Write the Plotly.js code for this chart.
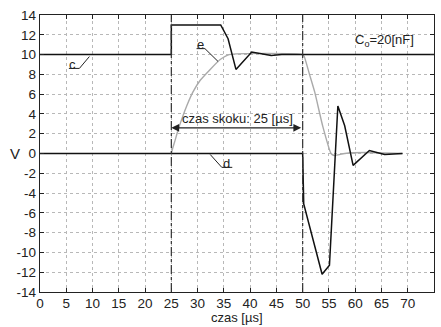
<!DOCTYPE html>
<html>
<head>
<meta charset="utf-8">
<script src="https://cdn.plot.ly/plotly-3.0.1.min.js"></script>
<style>html,body{margin:0;padding:0;background:#fff;}#chart{width:441px;height:327px;}</style>
</head>
<body>
<div id="chart"></div>
<script>
// Trace c (upper black)
const cTime = [0, 25, 25, 34.4, 35.8, 37.3, 40.3, 42.5, 44, 46, 75];
const cVolt = [10, 10, 13, 13, 11.6, 8.5, 10.25, 10.0, 9.9, 10, 10];
// Trace d (lower black)
const dTime = [0, 50, 50.2, 53.7, 55.1, 56.7, 58, 59.6, 62.7, 65.6, 69];
const dVolt = [0, 0, -5.1, -12.2, -11.3, 4.8, 2.8, -1.2, 0.3, -0.1, 0];
// Trace e (gray)
const eTime = [25, 25.3, 25.7, 26.3, 27, 28, 29.1, 30.5, 32.4, 34.3, 36, 50, 50.3, 51.3, 52.3, 53.8, 55.4, 56, 58, 62, 69];
const eVolt = [0, 0.6, 1.3, 2.4, 3.5, 4.9, 6.2, 7.4, 8.5, 9.5, 10, 10, 9.8, 8.0, 6.2, 2.8, 0, -0.2, 0, 0.1, 0];
// Tick labels
const xTicks = [0, 5, 10, 15, 20, 25, 30, 35, 40, 45, 50, 55, 60, 65, 70, 75];
const yTicks = [-14, -12, -10, -8, -6, -4, -2, 0, 2, 4, 6, 8, 10, 12, 14];
// Step markers
const stepTimes = [25, 50];
const stepLabel = 'czas skoku: 25 [µs]';
const xTitle = 'czas [µs]';
const yTitle = 'V';
// Curve labels: [text, x, y]
const curveLabels = [['c', 6.1, 9.0], ['e', 30.6, 11.06], ['d', 35.5, -0.96]];
const leaders = [
  {x: [5.5, 7.5, 9.4], y: [8.6, 8.6, 9.8]},
  {x: [29.8, 31.4, 33.9], y: [10.6, 10.6, 9.3]},
  {x: [32.4, 34.6, 36.6], y: [-0.1, -1.4, -1.4]}
];

const font = 'Liberation Sans, Arial, sans-serif';

const traces = [
  {x: eTime, y: eVolt, mode: 'lines', line: {color: '#aaaaaa', width: 1.4, shape: 'spline', smoothing: 0.5}, hoverinfo: 'skip'},
  {x: cTime, y: cVolt, mode: 'lines', line: {color: '#111111', width: 1.5}, hoverinfo: 'skip'},
  {x: dTime, y: dVolt, mode: 'lines', line: {color: '#111111', width: 1.5}, hoverinfo: 'skip'}
];
leaders.forEach(l => traces.push({x: l.x, y: l.y, mode: 'lines', line: {color: '#222', width: 1}, hoverinfo: 'skip'}));

const shapes = stepTimes.map(t => ({
  type: 'line', xref: 'x', yref: 'y', x0: t, x1: t, y0: -14, y1: 14,
  line: {color: '#333', width: 1.2, dash: 'dashdot'}
}));

const annotations = curveLabels.map(c => ({
  x: c[1], y: c[2], xref: 'x', yref: 'y', text: c[0], showarrow: false,
  font: {family: font, size: 13, color: '#222'}
}));
annotations.push({
  x: stepTimes[0], y: 2.6, ax: stepTimes[1], ay: 2.6, xref: 'x', yref: 'y', axref: 'x', ayref: 'y',
  text: '', showarrow: true, arrowhead: 2, arrowside: 'end+start', arrowsize: 1.3, arrowwidth: 1.2, arrowcolor: '#222', standoff: 0, startstandoff: 0
});
annotations.push({
  x: (stepTimes[0] + stepTimes[1]) / 2, y: 3.5, xref: 'x', yref: 'y', text: stepLabel, showarrow: false,
  font: {family: font, size: 13, color: '#222'}
});
annotations.push({
  x: 65.6, y: 11.4, xref: 'x', yref: 'y', text: 'C<sub>o</sub>=20[nF]', showarrow: false,
  font: {family: font, size: 13, color: '#222'}
});
annotations.push({
  x: -0.08, y: 0, xref: 'paper', yref: 'y', text: yTitle, showarrow: false,
  font: {family: font, size: 15, color: '#222'}
});
annotations.push({
  x: 0.5, y: -0.122, xref: 'paper', yref: 'paper', xanchor: 'center', yanchor: 'bottom',
  text: xTitle, showarrow: false, borderpad: 0,
  font: {family: font, size: 13, color: '#222'}
});

const axisCommon = {
  showgrid: true, gridcolor: '#b8b8b8', griddash: 'dot', gridwidth: 1,
  zeroline: false, showline: true, linecolor: '#222', linewidth: 1.3, mirror: 'ticks',
  ticks: 'inside', ticklen: 4, tickcolor: '#222',
  tickfont: {family: font, size: 13.5, color: '#222'}
};

const layout = {
  width: 441, height: 327,
  margin: {l: 40, r: 7, t: 15, b: 35},
  paper_bgcolor: '#fff', plot_bgcolor: '#fff',
  showlegend: false,
  xaxis: Object.assign({}, axisCommon, {
    range: [0, 75], tickvals: xTicks, ticktext: xTicks.map(String), ticklabelstandoff: -2
  }),
  yaxis: Object.assign({}, axisCommon, {
    range: [-14, 14], tickvals: yTicks, ticktext: yTicks.map(String)
  }),
  shapes: shapes,
  annotations: annotations
};

Plotly.newPlot('chart', traces, layout, {staticPlot: true, displayModeBar: false});
</script>
</body>
</html>
